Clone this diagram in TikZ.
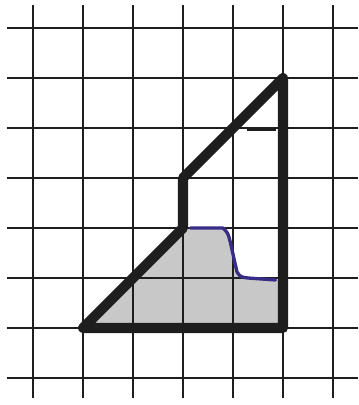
\documentclass[tikz,border=0pt]{standalone}
\definecolor{pencil}{RGB}{200,200,200}
\definecolor{inkblue}{RGB}{55,45,135}
\definecolor{ink}{RGB}{30,30,30}

\begin{document}
\begin{tikzpicture}[
  gridline/.style={line width=1.5pt, ink},
  outline/.style={line width=5.7pt, ink, line join=round, line cap=round},
  shaded/.style={fill=pencil},
  bluepen/.style={line width=1.9pt, inkblue, line cap=round, line join=round},
  mark line/.style={line width=1.6pt, ink}
]
\useasboundingbox (-0.66,-0.54) rectangle (6.52,7.56);

% corners of the figure
\coordinate (bl) at (1,1);
\coordinate (knee) at (3,3);
\coordinate (step) at (3,4);
\coordinate (tip) at (5,6);
\coordinate (br) at (5,1);

% shaded part
\fill[shaded] (bl) -- (knee) -- (3.8,3) .. controls (3.9,2.9) .. (3.95,2.7)
  -- (4.08,2.12) .. controls (4.15,2.02) .. (4.3,2.0) -- (5,1.96) -- (br) -- cycle;

\foreach \i in {0,...,6}
  \draw[gridline] (\i,-0.4) -- (\i,7.46);
\foreach \j in {0,...,7}
  \draw[gridline] (-0.52,\j) -- (6.5,\j);

\draw[bluepen] (3.15,3.0) -- (3.8,3.0) .. controls (3.9,2.9) .. (3.95,2.7)
  -- (4.08,2.12) .. controls (4.15,2.02) .. (4.3,2.0) -- (4.85,1.96);

\draw[outline] (bl) -- (knee) -- (step) -- (tip) -- (br) -- cycle;

\draw[mark line] (4.28,4.96) -- (4.86,4.96);
\end{tikzpicture}
\end{document}
